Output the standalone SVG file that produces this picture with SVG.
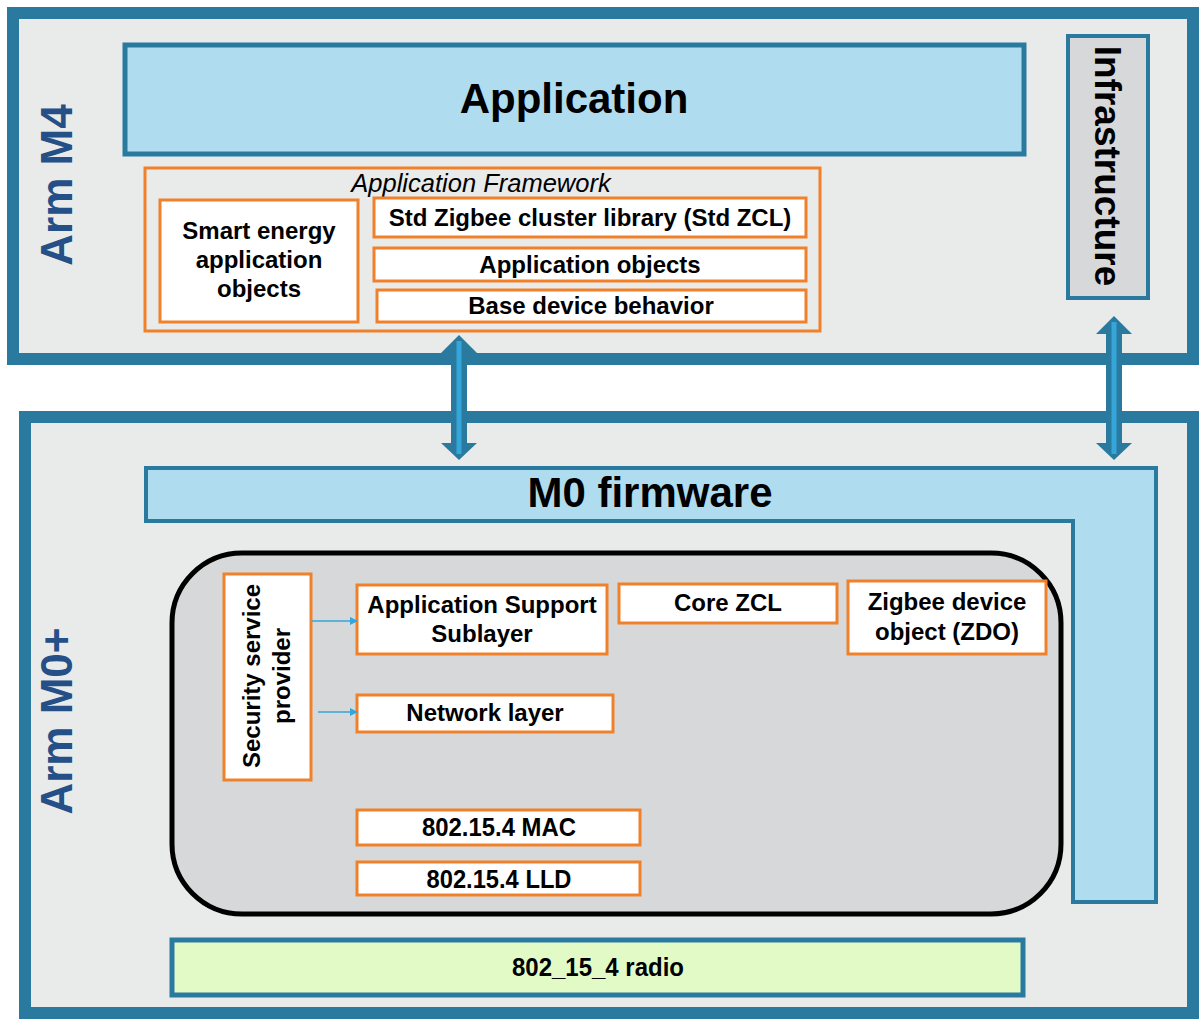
<svg xmlns="http://www.w3.org/2000/svg" width="1202" height="1019" viewBox="0 0 1202 1019">
<style>
.t{font-family:"Liberation Sans",Arial,sans-serif;font-weight:bold;fill:#000;text-anchor:middle}
.s{font-size:24px}
.ob{fill:#e9ebea;stroke:#2a7aa0;stroke-width:12}
.lb{fill:#b0dcf0;stroke:#2a7aa0;stroke-width:5}
.or{fill:#fff;stroke:#f0812a;stroke-width:3}
.arm{font-family:"Liberation Sans",Arial,sans-serif;font-weight:bold;fill:#254f87;font-size:44px;text-anchor:middle}
</style>
<defs>
<marker id="sa" markerWidth="8" markerHeight="8" refX="7" refY="4" orient="auto" markerUnits="userSpaceOnUse">
<path d="M0,0 L8,4 L0,8 Z" fill="#35a6d9"/>
</marker>
</defs>
<rect width="1202" height="1019" fill="#fff"/>
<g id="armM4">
<rect class="ob" x="13" y="13" width="1180" height="346"/>
<text class="arm" transform="translate(72,185) rotate(-90)">Arm M4</text>
</g>
<g id="armM0">
<rect class="ob" x="25" y="417" width="1168" height="596"/>
<text class="arm" transform="translate(72,721) rotate(-90)">Arm M0+</text>
</g>
<g id="application">
<rect class="lb" x="125" y="45" width="899" height="109"/>
<text class="t" x="574" y="113" font-size="42">Application</text>
</g>
<g id="infrastructure">
<rect x="1068" y="36" width="80" height="262" fill="#d7d8da" stroke="#2a7aa0" stroke-width="4"/>
<text class="t" font-size="37" transform="translate(1095,166) rotate(90)">Infrastructure</text>
</g>
<g id="framework">
<rect x="145" y="168" width="675" height="163" fill="#e9ebea" stroke="#f0812a" stroke-width="3"/>
<text x="481" y="192" font-family="'Liberation Sans',Arial,sans-serif" font-style="italic" font-size="25.5" text-anchor="middle">Application Framework</text>
</g>
<g id="smartEnergy">
<rect class="or" x="160" y="200" width="198" height="122"/>
<text class="t s" x="259" y="239">Smart energy</text>
<text class="t s" x="259" y="268">application</text>
<text class="t s" x="259" y="297">objects</text>
</g>
<g id="stdZcl">
<rect class="or" x="374" y="198" width="432" height="39"/>
<text class="t s" x="590" y="226">Std Zigbee cluster library (Std ZCL)</text>
</g>
<g id="appObjects">
<rect class="or" x="374" y="248" width="432" height="33"/>
<text class="t s" x="590" y="273">Application objects</text>
</g>
<g id="baseDevice">
<rect class="or" x="377" y="290" width="429" height="32"/>
<text class="t s" x="591" y="314">Base device behavior</text>
</g>
<g id="m0firmware">
<path d="M146,468 H1156 V902 H1073 V521 H146 Z" fill="#b0dcf0" stroke="#2a7aa0" stroke-width="4"/>
<text class="t" x="650" y="507" font-size="42">M0 firmware</text>
</g>
<g id="stack">
<rect x="172" y="553" width="889" height="361" rx="70" ry="70" fill="#d7d8da" stroke="#000" stroke-width="5"/>
</g>
<g id="security">
<rect class="or" x="224" y="574" width="87" height="206"/>
<text class="t s" transform="translate(260,676) rotate(-90)">Security service</text>
<text class="t s" transform="translate(290,676) rotate(-90)">provider</text>
</g>
<g id="aps">
<rect class="or" x="357" y="585" width="250" height="69"/>
<text class="t s" x="482" y="613">Application Support</text>
<text class="t s" x="482" y="642">Sublayer</text>
</g>
<g id="coreZcl">
<rect class="or" x="619" y="584" width="218" height="39"/>
<text class="t s" x="728" y="611">Core ZCL</text>
</g>
<g id="zdo">
<rect class="or" x="848" y="581" width="198" height="73"/>
<text class="t s" x="947" y="610">Zigbee device</text>
<text class="t s" x="947" y="640">object (ZDO)</text>
</g>
<g id="network">
<rect class="or" x="357" y="695" width="256" height="37"/>
<text class="t s" x="485" y="721">Network layer</text>
</g>
<g id="mac">
<rect class="or" x="357" y="810" width="283" height="35"/>
<text class="t" font-size="25" x="499" y="836" textLength="154" lengthAdjust="spacingAndGlyphs">802.15.4 MAC</text>
</g>
<g id="lld">
<rect class="or" x="357" y="862" width="283" height="33"/>
<text class="t" font-size="25" x="499" y="888" textLength="145" lengthAdjust="spacingAndGlyphs">802.15.4 LLD</text>
</g>
<g id="radio">
<rect x="172" y="940" width="851" height="55" fill="#e2fbc6" stroke="#2a7aa0" stroke-width="5"/>
<text class="t" font-size="25" x="598" y="976" textLength="172" lengthAdjust="spacingAndGlyphs">802_15_4 radio</text>
</g>
<g id="connectors">
<polygon points="459,335 477,353 467,353 467,443 477,443 459,460 441,443 451,443 451,353 441,353" fill="#2a7aa0"/>
<line x1="459" y1="341" x2="459" y2="454" stroke="#35a6d9" stroke-width="5"/>
<polygon points="1114,316 1132,334 1122,334 1122,443 1132,443 1114,460 1096,443 1106,443 1106,334 1096,334" fill="#2a7aa0"/>
<line x1="1114" y1="322" x2="1114" y2="454" stroke="#35a6d9" stroke-width="5"/>
<line x1="312" y1="621" x2="357" y2="621" stroke="#35a6d9" stroke-width="1.5" marker-end="url(#sa)"/>
<line x1="318" y1="712" x2="357" y2="712" stroke="#35a6d9" stroke-width="1.5" marker-end="url(#sa)"/>
</g>
</svg>
